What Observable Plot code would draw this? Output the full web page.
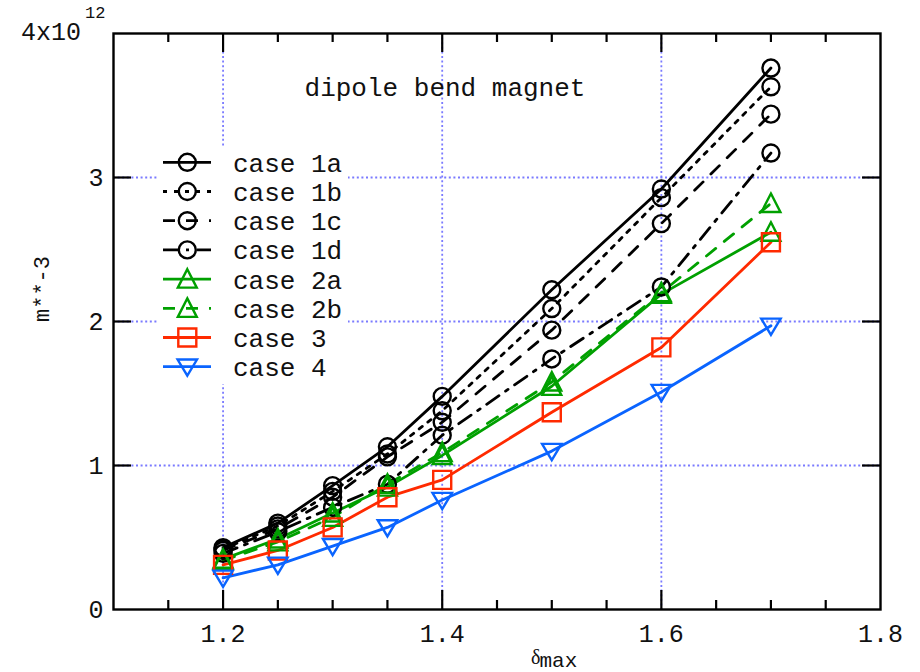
<!DOCTYPE html>
<html><head><meta charset="utf-8">
<script src="https://cdn.jsdelivr.net/npm/d3@7"></script>
<script src="https://cdn.jsdelivr.net/npm/@observablehq/plot@0.6"></script>
<style>body{margin:0;background:#fff}</style>
</head><body><div id="chart"></div>
<script>
// ---- data (values in units of 10^12 m**-3) ----
const xValues = [1.2, 1.25, 1.3, 1.35, 1.4, 1.5, 1.6, 1.7];
const case1a = [0.43, 0.60, 0.86, 1.13, 1.48, 2.22, 2.92, 3.76];
const case1b = [0.42, 0.58, 0.82, 1.08, 1.38, 2.09, 2.86, 3.63];
const case1c = [0.41, 0.56, 0.78, 1.06, 1.30, 1.94, 2.68, 3.44];
const case1d = [0.39, 0.54, 0.71, 0.87, 1.21, 1.74, 2.24, 3.17];
const case2a = [0.35, 0.49, 0.67, 0.85, 1.07, 1.55, 2.19, 2.62];
const case2b = [0.34, 0.47, 0.64, 0.87, 1.09, 1.58, 2.20, 2.82];
const case3  = [0.31, 0.41, 0.57, 0.78, 0.90, 1.37, 1.82, 2.55];
const case4  = [0.22, 0.31, 0.44, 0.57, 0.76, 1.10, 1.51, 1.97];

const seriesNames = ["case 1a", "case 1b", "case 1c", "case 1d", "case 2a", "case 2b", "case 3", "case 4"];
const seriesValues = [case1a, case1b, case1c, case1d, case2a, case2b, case3, case4];
const seriesColors = ["#000000", "#000000", "#000000", "#000000", "#00a000", "#00a000", "#ff2a00", "#0a64ff"];
const seriesDash = [null, "4,7", "12,11", "15,8,3,8", null, "12,11", null, null];
const seriesSymbols = ["circle", "circle", "circle", "circle", "triangle", "triangle", "square", "triangleDown"];

const xLabelTicks = [1.2, 1.4, 1.6, 1.8];
const xGridTicks = [1.2, 1.4, 1.6];
const xMinorTicks = [1.15, 1.25, 1.3, 1.35, 1.45, 1.5, 1.55, 1.65, 1.7, 1.75];
const yLabelTicks = [0, 1, 2, 3];
const yGridTicks = [1, 2, 3];
const titleText = "dipole bend magnet";
const yAxisLabel = "m**-3";
const xAxisSymbol = "δ";
const xAxisSub = "max";
const yTopBase = "4x10";
const yTopExp = "12";

// ---- symbols ----
const rad = size => Math.sqrt(size / Math.PI);
const symbolDefs = {
  circle: {draw(c, s) { const r = rad(s); c.moveTo(r, 0); c.arc(0, 0, r, 0, 2 * Math.PI); }},
  triangle: {draw(c, s) { const r = rad(s); c.moveTo(0, -r * 1.1); c.lineTo(r * 1.05, r * 0.95); c.lineTo(-r * 1.05, r * 0.95); c.closePath(); }},
  triangleDown: {draw(c, s) { const r = rad(s); c.moveTo(0, r * 1.0); c.lineTo(r * 1.08, -r * 0.8); c.lineTo(-r * 1.08, -r * 0.8); c.closePath(); }},
  square: {draw(c, s) { const r = rad(s); c.rect(-r, -r, 2 * r, 2 * r); }}
};
const symbolR = {circle: 8.5, triangle: 9, triangleDown: 9, square: 9};

const W = 920, H = 672;
const M = {top: 33, right: 40, bottom: 63, left: 113};
const plotW = W - M.left - M.right, plotH = H - M.top - M.bottom;
const mono = "Liberation Mono, DejaVu Sans Mono, monospace";
const gridColor = "#7a7aff";
const LW = 2.8, MW = 2.4;

const rows = seriesNames.map((name, i) => xValues.map((x, j) => ({series: name, x, y: seriesValues[i][j]})));

const marks = [
  Plot.ruleX(xGridTicks, {stroke: gridColor, strokeWidth: 1.8, strokeDasharray: "2,2.6"}),
  Plot.ruleY(yGridTicks, {stroke: gridColor, strokeWidth: 1.8, strokeDasharray: "2,2.6"})
];
seriesNames.forEach((name, i) => {
  marks.push(Plot.line(rows[i], {x: "x", y: "y", stroke: seriesColors[i], strokeWidth: LW,
    strokeDasharray: seriesDash[i] || undefined}));
});
seriesNames.forEach((name, i) => {
  marks.push(Plot.dot(rows[i], {x: "x", y: "y", stroke: seriesColors[i], strokeWidth: MW, fill: "none",
    r: symbolR[seriesSymbols[i]], symbol: symbolDefs[seriesSymbols[i]]}));
});
marks.push(
  Plot.ruleX(xMinorTicks, {stroke: "black", strokeWidth: 2.2, insetTop: plotH - 9}),
  Plot.ruleX(xMinorTicks, {stroke: "black", strokeWidth: 2.2, insetBottom: plotH - 9}),
  Plot.ruleX(xGridTicks, {stroke: "black", strokeWidth: 2.2, insetTop: plotH - 19}),
  Plot.ruleX(xGridTicks, {stroke: "black", strokeWidth: 2.2, insetBottom: plotH - 19}),
  Plot.ruleY(yGridTicks, {stroke: "black", strokeWidth: 2.2, insetRight: plotW - 18}),
  Plot.ruleY(yGridTicks, {stroke: "black", strokeWidth: 2.2, insetLeft: plotW - 18}),
  Plot.frame({stroke: "black", strokeWidth: 2.4}),
  Plot.axisX(xLabelTicks, {tickSize: 0, tickPadding: 15, tickFormat: d => d.toFixed(1), fontSize: 25, fontFamily: mono, fill: "#111", label: null}),
  Plot.axisY(yLabelTicks, {tickSize: 0, tickPadding: 10, tickFormat: d => String(d), fontSize: 25, fontFamily: mono, fill: "#111", label: null})
);

const chart = Plot.plot({
  width: W, height: H,
  marginTop: M.top, marginRight: M.right, marginBottom: M.bottom, marginLeft: M.left,
  style: {fontFamily: mono, fontSize: "25px", background: "white", color: "black", overflow: "visible"},
  x: {domain: [1.1, 1.8]},
  y: {domain: [0, 4]},
  marks
});
document.getElementById("chart").appendChild(chart);

// ---- annotations ----
const svg = d3.select(chart);
const groups = chart.querySelectorAll(":scope > g");
// opaque legend box (above grid, below data)
const bg = document.createElementNS("http://www.w3.org/2000/svg", "rect");
bg.setAttribute("x", 157); bg.setAttribute("y", 147);
bg.setAttribute("width", 191); bg.setAttribute("height", 237);
bg.setAttribute("fill", "white");
chart.insertBefore(bg, groups[2]);

const leg = svg.append("g").attr("text-anchor", "start");
seriesNames.forEach((name, i) => {
  const cy = 162.3 + i * 29.2;
  leg.append("line").attr("x1", 163).attr("x2", 211).attr("y1", cy).attr("y2", cy)
    .attr("stroke", seriesColors[i]).attr("stroke-width", LW)
    .attr("stroke-dasharray", seriesDash[i]);
  const p = d3.path();
  const r = symbolR[seriesSymbols[i]];
  symbolDefs[seriesSymbols[i]].draw(p, r * r * Math.PI);
  leg.append("path").attr("d", p.toString()).attr("transform", `translate(187.3,${cy})`)
    .attr("fill", "none").attr("stroke", seriesColors[i]).attr("stroke-width", MW);
  leg.append("text").attr("x", 233).attr("y", cy + 9.5).attr("text-anchor", "start").attr("font-family", mono)
    .attr("font-size", 26).attr("fill", "#111").text(name);
});

svg.append("text").attr("x", 445).attr("y", 96).attr("text-anchor", "middle")
  .attr("font-family", mono).attr("font-size", 26).attr("fill", "#111").text(titleText);

const topLabel = svg.append("text").attr("x", 21).attr("y", 40).attr("text-anchor", "start")
  .attr("font-family", mono).attr("fill", "#111");
topLabel.append("tspan").attr("font-size", 25).text(yTopBase);
topLabel.append("tspan").attr("font-size", 17).attr("dx", 4).attr("dy", -22).text(yTopExp);

svg.append("text").attr("transform", "translate(49,289) rotate(-90)").attr("text-anchor", "middle")
  .attr("font-family", mono).attr("font-size", 22).attr("fill", "#111").text(yAxisLabel);

const xl = svg.append("text").attr("x", 531).attr("y", 664).attr("text-anchor", "start").attr("fill", "#111");
xl.append("tspan").attr("font-family", "Liberation Serif, DejaVu Serif, serif").attr("font-size", 20).text(xAxisSymbol);
xl.append("tspan").attr("font-family", mono).attr("font-size", 21).attr("dy", 3).attr("dx", -1).text(xAxisSub);
</script>
</body></html>
